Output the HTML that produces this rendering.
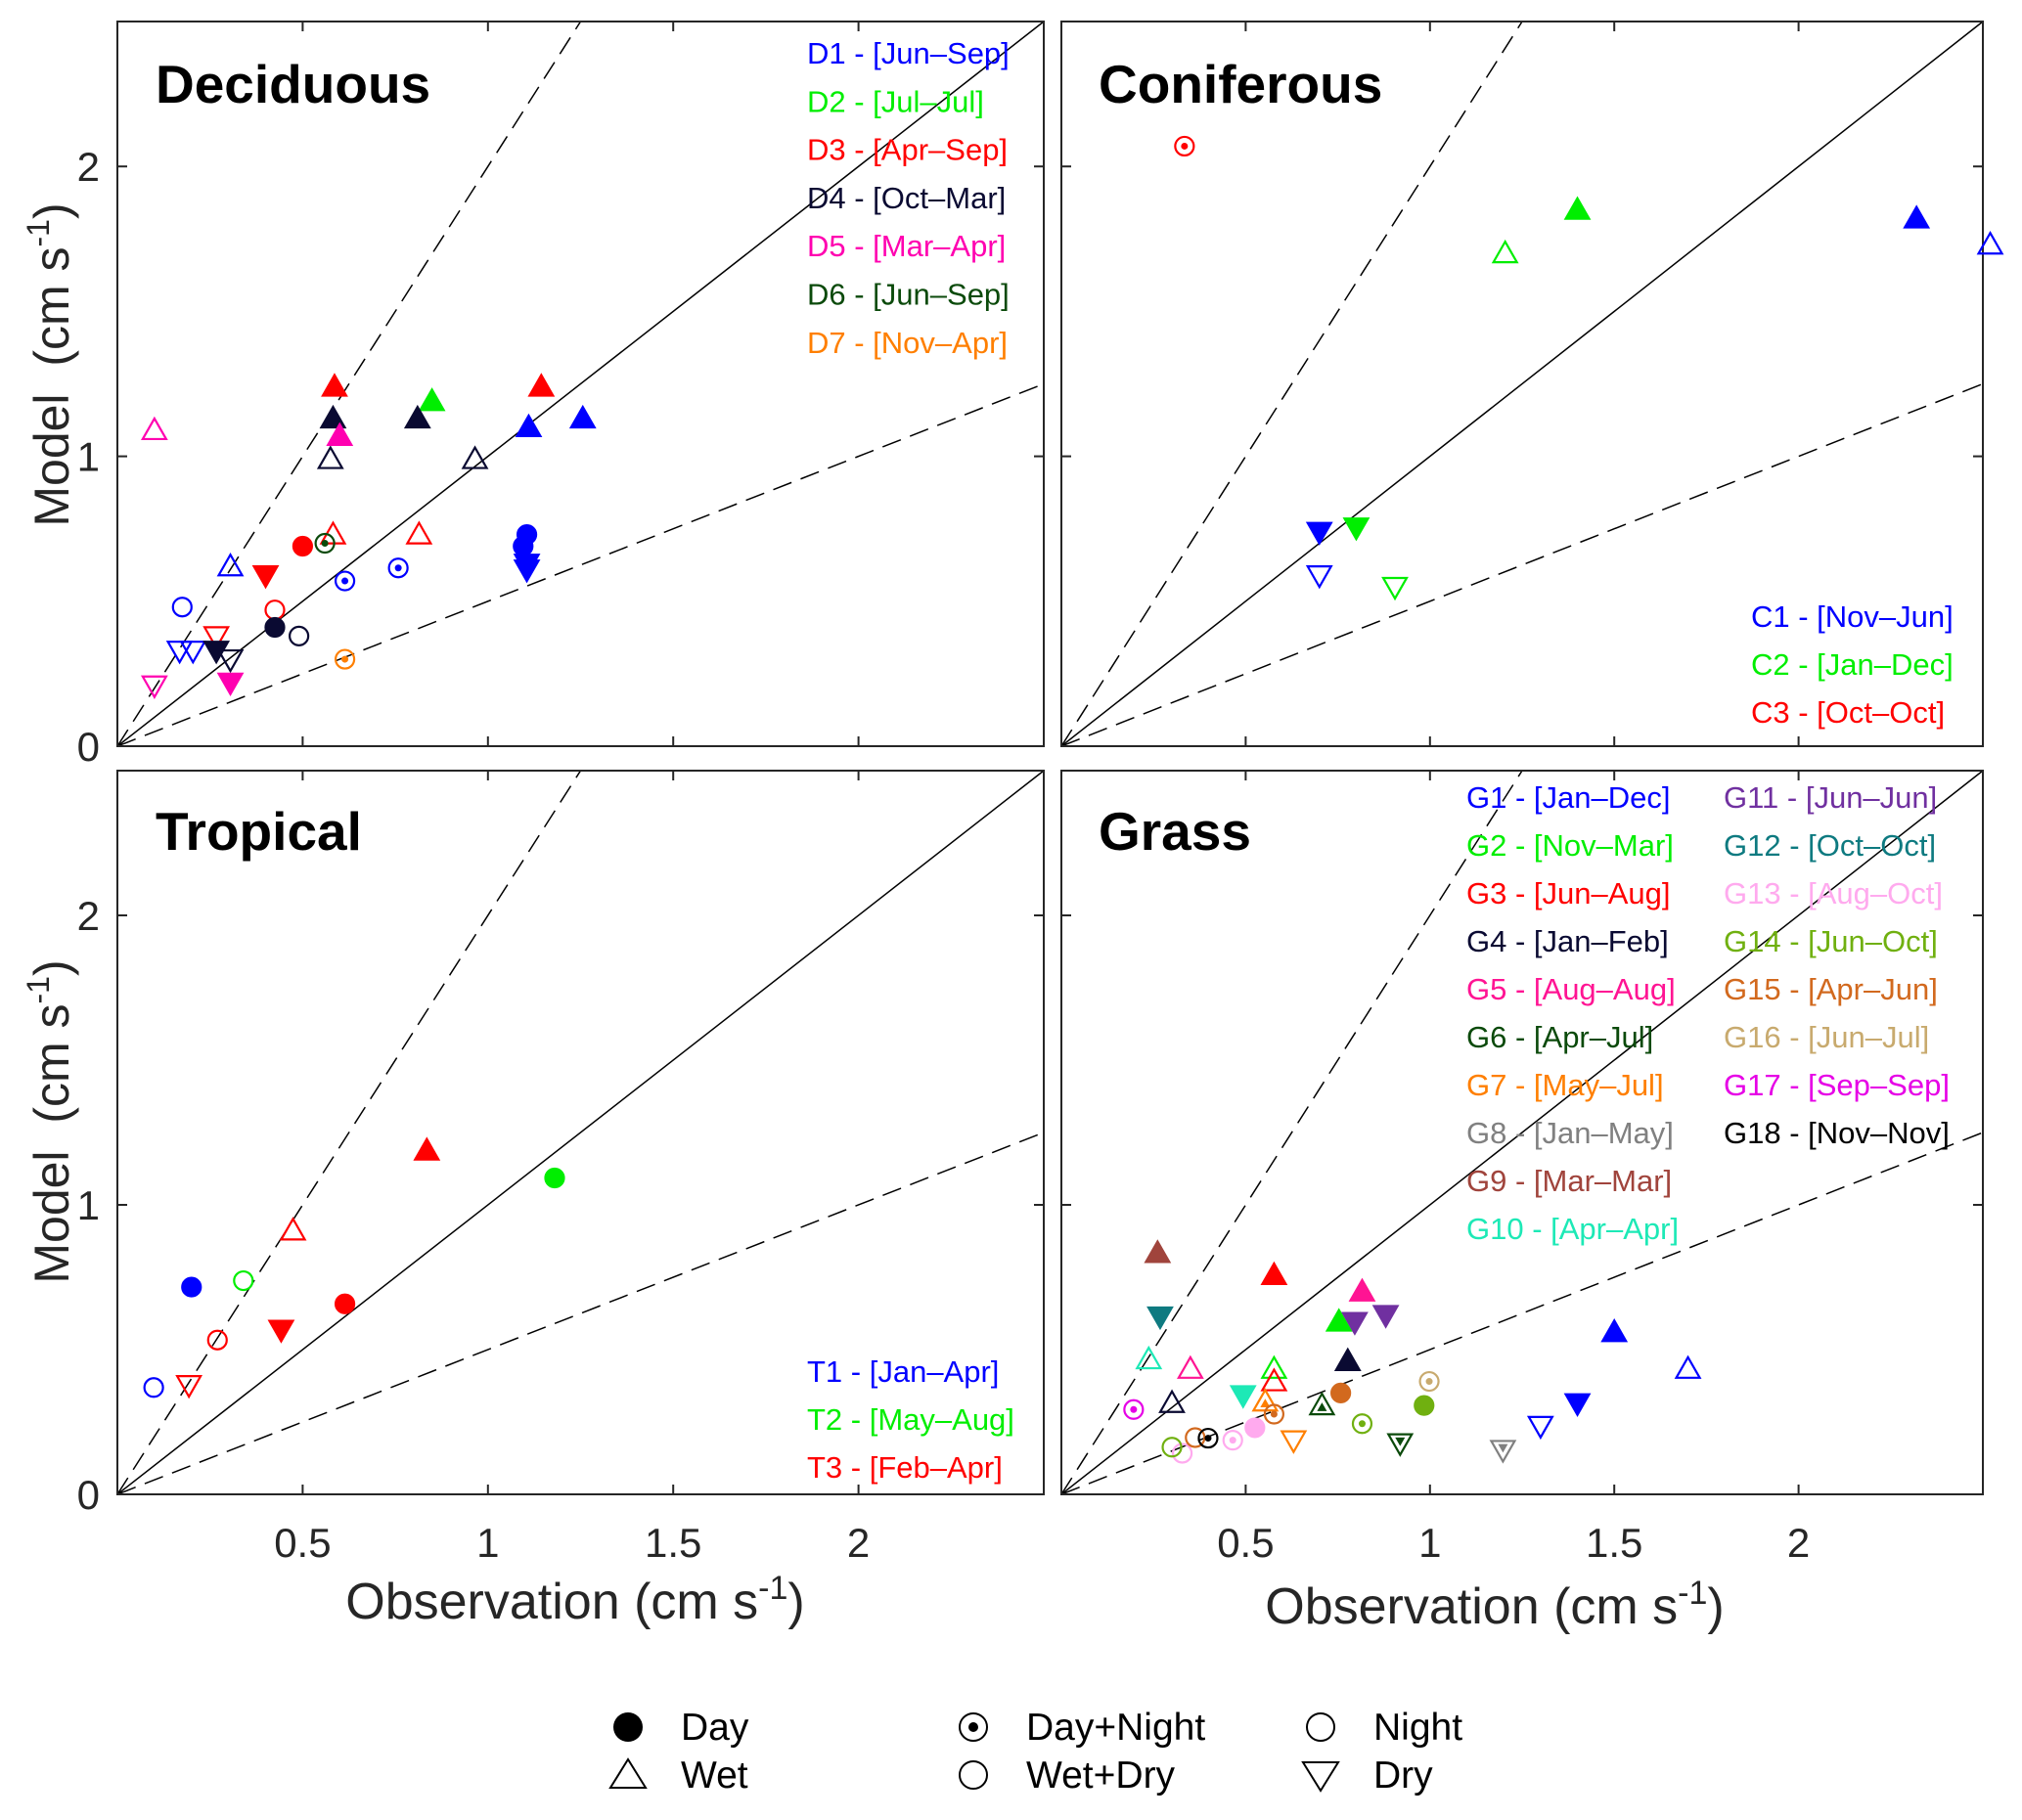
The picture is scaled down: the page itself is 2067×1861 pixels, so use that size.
<!DOCTYPE html>
<html><head><meta charset="utf-8"><style>
html,body{margin:0;padding:0;background:#fff;}
svg{display:block;font-family:"Liberation Sans",Arial,sans-serif;}
</style></head><body>
<svg id="chart" width="2067" height="1861" viewBox="0 0 2067 1861"></svg>
<script>
// ---------- data ----------
const xTicks = [0.5, 1, 1.5, 2];
const xTickLabels = ["0.5", "1", "1.5", "2"];
const yTicks = [0, 1, 2];
const yTickLabels = ["0", "1", "2"];

const decidNames = ["D1 - [Jun\u2013Sep]","D2 - [Jul\u2013Jul]","D3 - [Apr\u2013Sep]","D4 - [Oct\u2013Mar]","D5 - [Mar\u2013Apr]","D6 - [Jun\u2013Sep]","D7 - [Nov\u2013Apr]"];
const decidColors = ["#0000ff","#00ee00","#ff0000","#0a0a32","#ff00b0","#0b4a0b","#ff7f00"];
const decidSeries = [0,0,0,0,0,0,0,0,0,0,0,0, 1, 2,2,2,2,2,2,2,2, 3,3,3,3,3,3,3,3, 4,4,4,4, 5, 6];
const decidMarker = ["wet","wetF","wetF","day","day","dryF","dryF","dn","dn","night","dry","dry",
  "wetF",
  "wetF","wetF","wet","wet","day","night","dryF","dry",
  "wetF","wetF","wet","wet","day","night","dryF","dry",
  "wet","wetF","dry","dryF",
  "dn","dn"];
const decidX = [0.305,1.11,1.256,1.105,1.095,1.105,1.105,0.614,0.758,0.175,0.168,0.204,
  0.849,
  0.586,1.144,0.582,0.814,0.50,0.425,0.40,0.267,
  0.582,0.81,0.575,0.965,0.425,0.49,0.267,0.305,
  0.10,0.60,0.10,0.305,
  0.56,0.614];
const decidY = [0.62,1.10,1.13,0.73,0.69,0.63,0.61,0.57,0.615,0.48,0.33,0.33,
  1.19,
  1.24,1.24,0.73,0.73,0.69,0.47,0.59,0.38,
  1.13,1.13,0.99,0.99,0.41,0.38,0.33,0.30,
  1.09,1.07,0.21,0.22,
  0.70,0.30];

const conifNames = ["C1 - [Nov\u2013Jun]","C2 - [Jan\u2013Dec]","C3 - [Oct\u2013Oct]"];
const conifColors = ["#0000ff","#00ee00","#ff0000"];
const conifSeries = [0,0,0,0,1,1,1,1,2];
const conifMarker = ["wetF","wet","dryF","dry","wetF","wet","dryF","dry","dn"];
const conifX = [2.32,2.52,0.70,0.70,1.40,1.204,0.80,0.905,0.334];
const conifY = [1.82,1.73,0.74,0.59,1.85,1.70,0.755,0.55,2.07];

const tropNames = ["T1 - [Jan\u2013Apr]","T2 - [May\u2013Aug]","T3 - [Feb\u2013Apr]"];
const tropColors = ["#0000ff","#00ee00","#ff0000"];
const tropSeries = [0,0,1,1,2,2,2,2,2,2];
const tropMarker = ["day","night","day","night","wetF","wet","day","night","dryF","dry"];
const tropX = [0.20,0.098,1.18,0.34,0.835,0.474,0.614,0.27,0.442,0.193];
const tropY = [0.716,0.369,1.093,0.738,1.187,0.911,0.658,0.533,0.569,0.378];

const grassNames = ["G1 - [Jan\u2013Dec]","G2 - [Nov\u2013Mar]","G3 - [Jun\u2013Aug]","G4 - [Jan\u2013Feb]","G5 - [Aug\u2013Aug]","G6 - [Apr\u2013Jul]","G7 - [May\u2013Jul]","G8 - [Jan\u2013May]","G9 - [Mar\u2013Mar]","G10 - [Apr\u2013Apr]","G11 - [Jun\u2013Jun]","G12 - [Oct\u2013Oct]","G13 - [Aug\u2013Oct]","G14 - [Jun\u2013Oct]","G15 - [Apr\u2013Jun]","G16 - [Jun\u2013Jul]","G17 - [Sep\u2013Sep]","G18 - [Nov\u2013Nov]"];
const grassColors = ["#0000ff","#00ee00","#ff0000","#0a0a32","#ff1493","#0b4a0b","#ff7f00","#808080","#a0443c","#1de9b6","#7030a0","#0e7a80","#ffaaee","#70b010","#d2691e","#c8aa6e","#e600e6","#000000"];
const grassSeries = [0,0,0,0, 1,1, 2,2, 3,3, 4,4, 5,5, 6,6, 7, 8, 9,9, 10,10, 11, 12,12,12, 13,13,13, 14,14,14, 15, 16, 17];
const grassMarker = ["wetF","wet","dryF","dry", "wetF","wet", "wetF","wet", "wetF","wet", "wetF","wet", "wetI","dryI", "wetI","dry", "dryI", "wetF", "wet","dryF", "dryF","dryF", "dryF", "day","dn","night", "day","dn","night", "day","dn","night", "dn", "dn", "dn"];
const grassX = [1.50,1.70,1.40,1.30, 0.753,0.577, 0.577,0.577, 0.777,0.30, 0.816,0.35, 0.707,0.919, 0.553,0.63, 1.198, 0.261, 0.237,0.493, 0.796,0.88, 0.268, 0.525,0.465,0.328, 0.984,0.816,0.30, 0.758,0.577,0.363, 0.998, 0.196, 0.398];
const grassY = [0.56,0.433,0.315,0.237, 0.596,0.433, 0.757,0.39, 0.46,0.315, 0.70,0.433, 0.307,0.177, 0.32,0.187, 0.154, 0.833, 0.466,0.343, 0.596,0.62, 0.615, 0.23,0.187,0.142, 0.307,0.244,0.163, 0.35,0.277,0.196, 0.39, 0.293, 0.194];

// ---------- drawing ----------
const NS = "http://www.w3.org/2000/svg";
const svg = document.getElementById("chart");
function mk(tag, attrs, parent){
  const e = document.createElementNS(NS, tag);
  for (const k in attrs) e.setAttribute(k, attrs[k]);
  (parent||svg).appendChild(e);
  return e;
}
const AX = "#262626";
const XMAX = 2.5, YMAX = 2.5;
const DASH = "20,10";

function panel(name, x0, x1, y0, y1, showX, showY){
  const g = mk("g", {});
  
  
  const sx = v => x0 + v/XMAX*(x1-x0);
  const sy = v => y1 - v/YMAX*(y1-y0);
  const l1 = mk("line",{x1:sx(0),y1:sy(0),x2:sx(2.5),y2:sy(2.5),stroke:"#000","stroke-width":1.5}, g);
  
  
  const l2 = mk("line",{x1:sx(0),y1:sy(0),x2:sx(1.25),y2:sy(2.5),stroke:"#000","stroke-width":1.5,"stroke-dasharray":DASH}, g);
  
  
  const l3 = mk("line",{x1:sx(0),y1:sy(0),x2:sx(2.5),y2:sy(1.25),stroke:"#000","stroke-width":1.5,"stroke-dasharray":DASH}, g);
  
  
  const fr = mk("rect",{x:x0,y:y0,width:x1-x0,height:y1-y0,fill:"none",stroke:AX,"stroke-width":2}, g);
  
  
  xTicks.forEach((t,i)=>{
    mk("line",{x1:sx(t),y1:y1,x2:sx(t),y2:y1-10,stroke:AX,"stroke-width":2}, g);
    mk("line",{x1:sx(t),y1:y0,x2:sx(t),y2:y0+10,stroke:AX,"stroke-width":2}, g);
    if (showX){
      const tx = mk("text",{x:sx(t),y:y1+64,"text-anchor":"middle","font-size":42,fill:AX}, g);
      tx.textContent = xTickLabels[i];
      
      
    }
  });
  yTicks.forEach((t,i)=>{
    mk("line",{x1:x0,y1:sy(t),x2:x0+10,y2:sy(t),stroke:AX,"stroke-width":2}, g);
    mk("line",{x1:x1,y1:sy(t),x2:x1-10,y2:sy(t),stroke:AX,"stroke-width":2}, g);
    if (showY){
      const ty = mk("text",{x:x0-18,y:sy(t)+15,"text-anchor":"end","font-size":42,fill:AX}, g);
      ty.textContent = yTickLabels[i];
      
      
    }
  });
  return {g, sx, sy};
}

function marker(g, type, cx, cy, color){
  const r = 9.5, t = 12;
  let el;
  const sw = 2.2;
  if (type==="day") el = mk("circle",{cx,cy,r,fill:color,stroke:color,"stroke-width":sw}, g);
  else if (type==="night") el = mk("circle",{cx,cy,r,fill:"none",stroke:color,"stroke-width":sw}, g);
  else if (type==="dn"){
    el = mk("circle",{cx,cy,r,fill:"none",stroke:color,"stroke-width":sw}, g);
    mk("circle",{cx,cy,r:3.5,fill:color}, g);
  } else {
    const up = type.startsWith("wet");
    const pts = up ? `${cx},${cy-t} ${cx-t},${cy+t*0.75} ${cx+t},${cy+t*0.75}`
                   : `${cx},${cy+t} ${cx-t},${cy-t*0.75} ${cx+t},${cy-t*0.75}`;
    const filled = type.endsWith("F");
    el = mk("polygon",{points:pts,fill:filled?color:"none",stroke:color,"stroke-width":sw,"stroke-linejoin":"miter"}, g);
    if (type.endsWith("I")){
      const s = 5;
      const ip = up ? `${cx},${cy-s+2} ${cx-s},${cy+s*0.75+2} ${cx+s},${cy+s*0.75+2}`
                    : `${cx},${cy+s-2} ${cx-s},${cy-s*0.75-2} ${cx+s},${cy-s*0.75-2}`;
      mk("polygon",{points:ip,fill:color}, g);
    }
  }
  return el;
}

function drawPoints(p, xs, ys, series, markers, colors, prefix){
  for (let i=0;i<xs.length;i++){
    const el = marker(p.g, markers[i], p.sx(xs[i]), p.sy(ys[i]), colors[series[i]]);
    
    
  }
}

function legend(g, names, colors, x, y0, dy){
  names.forEach((n,i)=>{
    const t = mk("text",{x:x,y:y0+i*dy,"font-size":31,fill:colors[i]}, g);
    t.textContent = n;
    
    
  });
}
function title(g, text, x, y){
  const t = mk("text",{x,y,"font-size":55,"font-weight":"bold",fill:"#000"}, g);
  t.textContent = text;
  
  
}

const pD = panel("deciduous", 120, 1067, 22, 763, false, true);
const pC = panel("coniferous", 1085, 2027, 22, 763, false, false);
const pT = panel("tropical", 120, 1067, 788, 1528, true, true);
const pG = panel("grass", 1085, 2027, 788, 1528, true, false);

title(pD.g, "Deciduous", 159, 105);
title(pC.g, "Coniferous", 1123, 105);
title(pT.g, "Tropical", 159, 869);
title(pG.g, "Grass", 1123, 869);

legend(pD.g, decidNames, decidColors, 825, 65, 49.3);
legend(pC.g, conifNames, conifColors, 1790, 641, 49);
legend(pT.g, tropNames, tropColors, 825, 1413, 49);
legend(pG.g, grassNames.slice(0,10), grassColors.slice(0,10), 1499, 826, 49);
legend(pG.g, grassNames.slice(10), grassColors.slice(10), 1762, 826, 49);

drawPoints(pD, decidX, decidY, decidSeries, decidMarker, decidColors, "deciduous");
drawPoints(pC, conifX, conifY, conifSeries, conifMarker, conifColors, "coniferous");
drawPoints(pT, tropX, tropY, tropSeries, tropMarker, tropColors, "tropical");
drawPoints(pG, grassX, grassY, grassSeries, grassMarker, grassColors, "grass");

// axis titles
function yTitle(cy){
  const t = mk("text",{x:0,y:0,"font-size":50,fill:AX,"text-anchor":"middle","xml:space":"preserve",transform:`translate(70,${cy}) rotate(-90)`});
  t.innerHTML = 'Model\u00a0\u00a0(cm s<tspan dy="-20" font-size="32">-1</tspan><tspan dy="20">)</tspan>';
  
  
}
yTitle(373); yTitle(1147);
function xTitle(cx, y){
  const t = mk("text",{x:cx,y:y,"font-size":52,fill:AX,"text-anchor":"middle"});
  t.innerHTML = 'Observation (cm s<tspan dy="-20" font-size="34">-1</tspan><tspan dy="20">)</tspan>';
  
  
}
xTitle(588, 1655); xTitle(1528, 1660);

// bottom marker-type legend
const legTypes = ["day","wet","dn","night","night","dry"];
const legLabels = ["Day","Wet","Day+Night","Wet+Dry","Night","Dry"];
const legCol = [0,0,1,1,2,2];
const legRow = [0,1,0,1,0,1];
const colX = [642, 995, 1350];
const rowY = [1766, 1815];
legTypes.forEach((tp,i)=>{
  const g = mk("g",{});
  
  
  const cx = colX[legCol[i]], cy = rowY[legRow[i]];
  if (tp==="day") mk("circle",{cx,cy,r:15,fill:"#000"}, g);
  else if (tp==="night") mk("circle",{cx,cy,r:14,fill:"none",stroke:"#000","stroke-width":2}, g);
  else if (tp==="dn"){ mk("circle",{cx,cy,r:14,fill:"none",stroke:"#000","stroke-width":2}, g); mk("circle",{cx,cy,r:5,fill:"#000"}, g); }
  else if (tp==="wet") mk("polygon",{points:`${cx},${cy-16} ${cx-18},${cy+13} ${cx+18},${cy+13}`,fill:"none",stroke:"#000","stroke-width":2}, g);
  else mk("polygon",{points:`${cx},${cy+16} ${cx-18},${cy-13} ${cx+18},${cy-13}`,fill:"none",stroke:"#000","stroke-width":2}, g);
  const t = mk("text",{x:cx+54,y:cy+13,"font-size":39,fill:"#000"}, g);
  t.textContent = legLabels[i];
});
</script>
</body></html>
